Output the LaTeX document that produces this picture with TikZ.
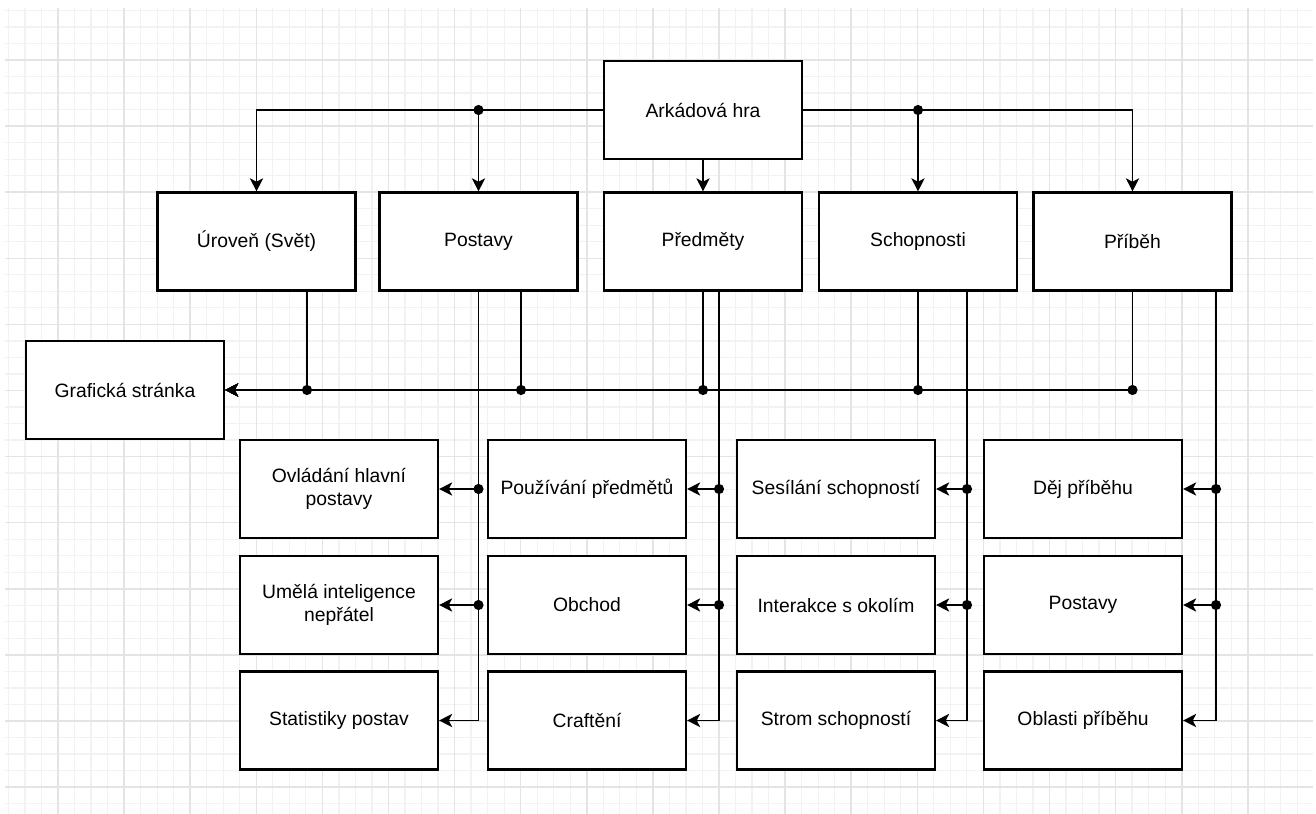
\documentclass[tikz,border=0pt]{standalone}
\usepackage{fontspec}
\setmainfont{Liberation Sans}
\usetikzlibrary{arrows.meta,calc}
\definecolor{gridmajor}{HTML}{E4E4E4}
\definecolor{gridminor}{HTML}{F2F2F2}
\tikzset{
	block/.style={draw, line width=1.2pt, fill=white, minimum width=3.96cm, minimum height=1.96cm, align=center, inner sep=2pt, font=\fontsize{11}{13.5}\selectfont},
	link/.style={line width=1pt, -{Stealth[length=7.5pt,width=7.5pt,inset=2pt]}},
}
\begin{document}
\begin{tikzpicture}[x=0.02cm, y=-0.02cm]
		\useasboundingbox[fill=white] (0,0) rectangle (1316,814);
		\foreach \i in {0,...,78} \draw[gridminor, line width=0.7pt] (8.4+16.525*\i,8) -- (8.4+16.525*\i,814);
		\foreach \j in {0,...,48} \draw[gridminor, line width=0.7pt] (5,10.4+16.525*\j) -- (1313,10.4+16.525*\j);
		\foreach \i in {0,...,18} \draw[gridmajor, line width=0.9pt] (58+66.1*\i,8) -- (58+66.1*\i,814);
		\foreach \j in {0,...,11} \draw[gridmajor, line width=0.9pt] (5,60+66.1*\j) -- (1313,60+66.1*\j);

		\node[block] (arkada) at (703,110) {Arkádová hra};

		\node[block] (uroven) at (256.5,241.5) {Úroveň (Svět)};
		\node[block] (postavy) at (478.5,241.5) {Postavy};
		\node[block] (predmety) at (703,241.5) {Předměty};
		\node[block] (schopnosti) at (918,241.5) {Schopnosti};
		\node[block] (pribeh) at (1132.5,241.5) {Příběh};

		\node[block] (graficka) at (125,390) {Grafická stránka};

		\node[block] (ovladani) at (339,489) {Ovládání hlavní\\postavy};
		\node[block] (umela) at (339,605) {Umělá inteligence\\nepřátel};
		\node[block] (statistiky) at (339,720.5) {Statistiky postav};

		\node[block] (pouzivani) at (587,489) {Používání předmětů};
		\node[block] (obchod) at (587,605) {Obchod};
		\node[block] (crafteni) at (587,720.5) {Craftění};

		\node[block] (sesilani) at (836,489) {Sesílání schopností};
		\node[block] (interakce) at (836,605) {Interakce s okolím};
		\node[block] (strom) at (836,720.5) {Strom schopností};

		\node[block] (dej) at (1083,489) {Děj příběhu};
		\node[block] (postavyb) at (1083,605) {Postavy};
		\node[block] (oblasti) at (1083,720.5) {Oblasti příběhu};

		\coordinate (urovenout) at ($(uroven.south)+(50.5,0)$);
		\coordinate (postavyout) at ($(postavy.south)+(42.5,0)$);
		\coordinate (predmetyout) at ($(predmety.south)+(16,0)$);
		\coordinate (schopnostiout) at ($(schopnosti.south)+(49,0)$);
		\coordinate (pribehout) at ($(pribeh.south)+(83.5,0)$);

		\draw[link] (arkada.west) -| (uroven.north);
		\draw[link] (arkada.west) -| (postavy.north);
		\draw[link] (arkada.south) -- (predmety.north);
		\draw[link] (arkada.east) -| (schopnosti.north);
		\draw[link] (arkada.east) -| (pribeh.north);
		\fill (postavy.north |- arkada.west) circle (2.9pt);
		\fill (schopnosti.north |- arkada.east) circle (2.9pt);

		\draw[link] (urovenout) |- (graficka.east);
		\draw[link] (postavyout) |- (graficka.east);
		\draw[link] (predmety.south) |- (graficka.east);
		\draw[link] (schopnosti.south) |- (graficka.east);
		\draw[link] (pribeh.south) |- (graficka.east);
		\fill (urovenout |- graficka.east) circle (2.9pt);
		\fill (postavyout |- graficka.east) circle (2.9pt);
		\fill (predmety.south |- graficka.east) circle (2.9pt);
		\fill (schopnosti.south |- graficka.east) circle (2.9pt);
		\fill (pribeh.south |- graficka.east) circle (2.9pt);

		\draw[link] (postavy.south) |- (ovladani.east);
		\draw[link] (postavy.south) |- (umela.east);
		\draw[link] (postavy.south) |- (statistiky.east);
		\fill (postavy.south |- ovladani.east) circle (2.9pt);
		\fill (postavy.south |- umela.east) circle (2.9pt);

		\draw[link] (predmetyout) |- (pouzivani.east);
		\draw[link] (predmetyout) |- (obchod.east);
		\draw[link] (predmetyout) |- (crafteni.east);
		\fill (predmetyout |- pouzivani.east) circle (2.9pt);
		\fill (predmetyout |- obchod.east) circle (2.9pt);

		\draw[link] (schopnostiout) |- (sesilani.east);
		\draw[link] (schopnostiout) |- (interakce.east);
		\draw[link] (schopnostiout) |- (strom.east);
		\fill (schopnostiout |- sesilani.east) circle (2.9pt);
		\fill (schopnostiout |- interakce.east) circle (2.9pt);

		\draw[link] (pribehout) |- (dej.east);
		\draw[link] (pribehout) |- (postavyb.east);
		\draw[link] (pribehout) |- (oblasti.east);
		\fill (pribehout |- dej.east) circle (2.9pt);
		\fill (pribehout |- postavyb.east) circle (2.9pt);
\end{tikzpicture}
\end{document}
